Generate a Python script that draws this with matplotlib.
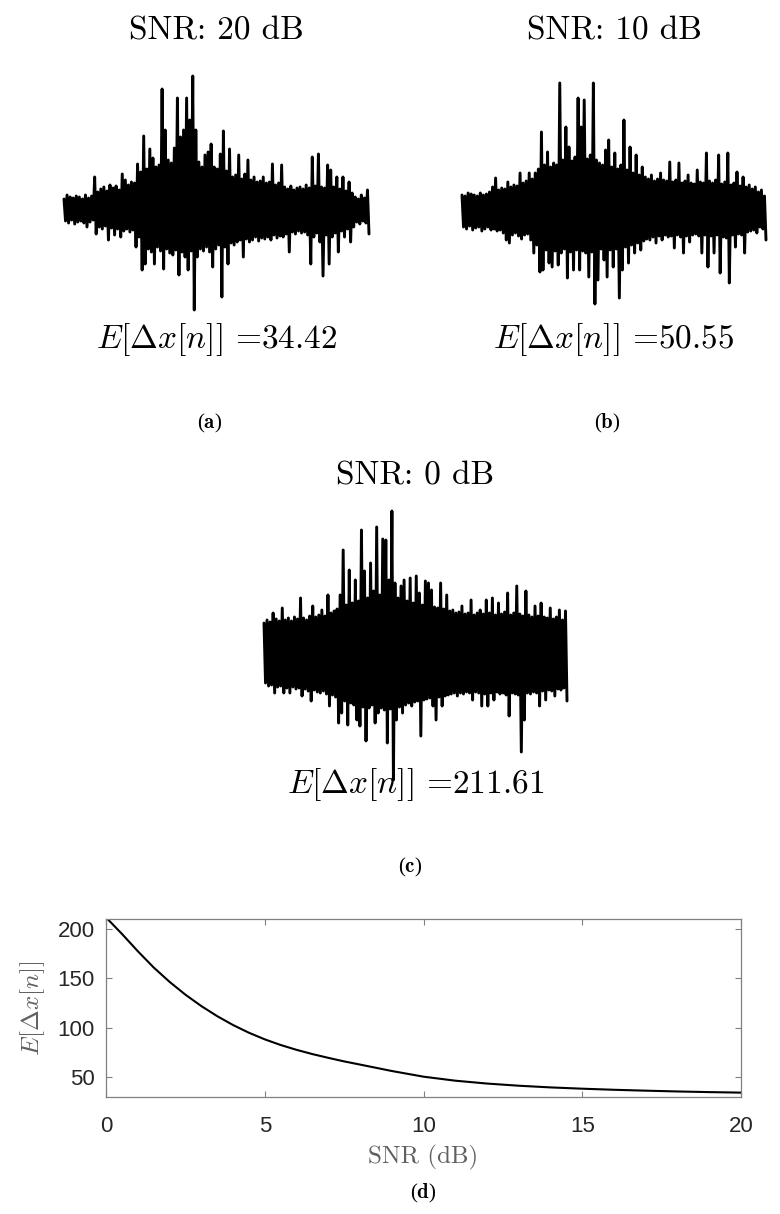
import numpy as np
import matplotlib
matplotlib.use("Agg")
import matplotlib.pyplot as plt

plt.rcParams['mathtext.fontset'] = 'cm'
plt.rcParams['axes.unicode_minus'] = False

W, H = 780, 1214

# ---------------- data ----------------
snr_titles = ["SNR: 20 dB", "SNR: 10 dB", "SNR: 0 dB"]
err_values = ["34.42", "50.55", "211.61"]
captions = ["a", "b", "c"]

# Upper / lower excursions of the error signals (per sample)
top_a = [8, 12, 10, 9, 11, 10, 8, 12, 9, 11,
         30, 15, 18, 20, 16, 22, 19, 21, 17, 33, 27, 22, 25, 24, 43,
         35, 71, 38, 58, 49, 40, 42, 118, 77, 47, 44, 59, 109, 70, 77,
         109, 87, 131, 77, 45, 40, 52, 55, 63, 40, 38, 53, 76, 36, 58,
         30, 32, 52, 28, 33, 47, 27, 30, 25, 26, 30, 24, 25, 43, 22,
         24, 42, 20, 18, 21, 17, 19, 20, 18, 22, 19, 50, 21, 53, 20,
         19, 42, 37, 20, 30, 18, 30, 16, 25, 14, 10, 8, 12, 9, 17]
bot_a = [-14, -16, -13, -17, -15, -14, -16, -20, -15, -13,
         -27, -20, -22, -19, -33, -21, -28, -22, -30, -24, -22, -25, -23,
         -40, -30, -63, -57, -42, -45, -57, -40, -44, -62, -42, -46, -48,
         -43, -68, -45, -50, -63, -44, -103, -50, -42, -44, -40, -45, -60,
         -42, -38, -90, -40, -57, -36, -38, -35, -33, -50, -32, -35, -33,
         -30, -34, -31, -32, -30, -33, -28, -31, -29, -30, -27, -45,
         -25, -27, -24, -26, -25, -28,
         -57, -30, -26, -35, -69, -28, -57, -30, -26, -45, -24, -30, -22,
         -35, -20, -15, -17, -14, -16, -27]

top_b = [10, 9, 12, 11, 10, 9, 12, 10, 11, 13,
         18, 27, 15, 17, 16, 23, 18, 20, 19, 32, 22, 24, 32, 26, 32,
         36, 73, 40, 53, 38, 42, 40, 122, 45, 78, 58, 44, 48, 107, 78,
         105, 46, 50, 122, 45, 42, 40, 55, 65, 38, 52, 36, 40, 85, 35,
         58, 32, 50, 30, 38, 28, 26, 30, 24, 26, 32, 25, 24, 43, 23,
         25, 42, 22, 24, 30, 22, 21, 35, 23, 22, 52, 24, 22, 25, 50,
         21, 23, 52, 20, 22, 33, 19, 28, 18, 20, 16, 18, 13, 15, 9]
bot_b = [-22, -24, -21, -25, -23, -22, -26, -24, -22, -25,
         -24, -26, -25, -28, -35, -38, -30, -28, -31, -34, -30, -29, -35,
         -48, -40, -67, -65, -45, -58, -62, -46, -60, -48, -44, -73, -47,
         -65, -45, -65, -46, -48, -72, -47, -99, -75, -44, -55, -72, -45,
         -62, -44, -93, -65, -42, -58, -40, -48, -38, -45, -36, -34, -35,
         -32, -38, -31, -35, -30, -32, -31, -43, -30, -32, -48, -31, -37,
         -30, -29, -31, -48, -30, -62, -31, -48, -30, -68, -32, -33, -78,
         -30, -42, -29, -30, -48, -27, -26, -25, -28, -22, -24, -35]

top_c = [30, 33, 31, 40, 34, 32, 45, 33, 35, 32,
         36, 34, 55, 35, 33, 37, 47, 36, 38, 43, 37, 58, 40, 42, 44,
         58, 103, 48, 83, 50, 73, 52, 123, 82, 55, 90, 62, 126, 58, 114,
         113, 73, 142, 70, 55, 67, 73, 52, 75, 50, 77, 60, 48, 72, 70,
         63, 46, 45, 70, 44, 58, 42, 43, 40, 41, 47, 39, 40, 53, 38,
         40, 43, 39, 53, 40, 55, 38, 50, 39, 41, 60, 38, 40, 67, 39,
         37, 62, 38, 36, 47, 37, 50, 36, 35, 45, 34, 36, 43, 33, 42]
bot_c = [-30, -33, -32, -40, -34, -33, -40, -35, -40, -34,
         -36, -35, -43, -36, -38, -48, -37, -39, -40, -38, -41, -53, -42,
         -44, -70, -60, -48, -72, -50, -52, -67, -73, -54, -88, -55, -52,
         -70, -60, -55, -57, -90, -56, -127, -67, -54, -60, -52, -50, -53,
         -49, -48, -83, -47, -46, -45, -53, -67, -44, -53, -43, -42, -41,
         -40, -43, -40, -41, -39, -40, -47, -39, -40, -53, -41, -53, -40,
         -47, -39, -41, -40, -42, -63, -40, -41, -42, -99, -67, -40, -41,
         -39, -40, -53, -38, -47, -37, -38, -43, -36, -37, -35, -48]

# Mean error vs SNR
snr_db = [0, 0.5, 1, 1.5, 2, 2.5, 3, 3.5, 4, 4.5, 5, 5.5, 6, 6.5, 7, 7.5,
          8, 9, 10, 11, 12, 13, 14, 15, 16, 17, 18, 19, 20]
mean_err = [211.61, 195.0, 177.5, 161.0, 146.5, 133.5, 122.0, 111.8, 102.8, 95.0, 88.3,
            82.6, 77.7, 73.4, 69.6, 66.0, 62.8, 56.3, 50.55, 46.5, 43.6, 41.4, 39.7,
            38.4, 37.3, 36.4, 35.6, 34.95, 34.42]

# ---------------- figure ----------------
fig = plt.figure(figsize=(W / 100, H / 100), dpi=100)


def rect(x0, y0, x1, y1):
    """pixel box (top-left origin) -> figure fraction rect"""
    return [x0 / W, 1 - y1 / H, (x1 - x0) / W, (y1 - y0) / H]


def fx(px):
    return px / W


def fy(py):
    return 1 - py / H


signals = [(top_a, bot_a), (top_b, bot_b), (top_c, bot_c)]
# (x0, x1, y_center, y_top, y_bottom) in pixels
boxes = [(64, 369, 207, 60, 330),
         (462, 766, 205, 60, 330),
         (264, 567, 653, 490, 800)]
title_y = [40, 40, 485]
err_y = [348, 348, 793]
cap_pos = [(210, 428), (607, 428), (410, 872)]

for k, ((tops, bots), (x0, x1, yc, yt, yb)) in enumerate(zip(signals, boxes)):
    ax = fig.add_axes(rect(x0, yt, x1, yb))
    n = len(tops)
    idx = np.arange(n)
    xs = np.column_stack([idx, idx + 0.5]).ravel()
    ys = np.column_stack([tops, bots]).ravel()
    ax.plot(xs, ys, color='black', lw=2.1, solid_joinstyle='round',
            solid_capstyle='round', clip_on=False)
    ax.set_xlim(0, n - 0.5)
    ax.set_ylim(-(yb - yc), yc - yt)
    ax.axis('off')
    cx = (x0 + x1) / 2
    fig.text(fx(cx), fy(title_y[k]), snr_titles[k], fontfamily='cmr10',
             fontsize=24, ha='center', va='baseline')
    fig.text(fx(cx), fy(err_y[k]), r'$E[\Delta x[n]]$ =' + err_values[k],
             fontfamily='cmr10', fontsize=24, ha='center', va='baseline')
    fig.text(fx(cap_pos[k][0]), fy(cap_pos[k][1]),
             r'($\mathbf{' + captions[k] + r'}$)',
             fontfamily='Liberation Serif', fontsize=15, ha='center', va='baseline')

# ---------------- bottom plot ----------------
axd = fig.add_axes(rect(106, 919, 741, 1097))
axd.plot(snr_db, mean_err, color='black', lw=1.5)
axd.set_xlim(0, 20)
axd.set_ylim(30, 210)
axd.set_xticks([0, 5, 10, 15, 20])
axd.set_yticks([50, 100, 150, 200])
frame_col = '#808080'
for s in axd.spines.values():
    s.set_color(frame_col)
    s.set_linewidth(0.9)
axd.tick_params(direction='in', length=4, width=0.8, color=frame_col,
                top=True, right=True, labelsize=16, labelcolor='#262626')
axd.tick_params(axis='x', pad=13.5)
axd.tick_params(axis='y', pad=8)
for lab in axd.get_xticklabels() + axd.get_yticklabels():
    lab.set_fontfamily('Liberation Sans')

fig.text(fx(423), fy(1163), 'SNR (dB)', fontfamily='cmr10', fontsize=18,
         color='#606060', ha='center', va='baseline')
fig.text(fx(33), fy(1008), r'$E[\Delta x[n]]$', fontsize=18, color='#606060',
         rotation=90, ha='center', va='center')
fig.text(fx(423), fy(1198), r'($\mathbf{d}$)', fontfamily='Liberation Serif',
         fontsize=15, ha='center', va='baseline')

fig.savefig('out.png', dpi=100)
